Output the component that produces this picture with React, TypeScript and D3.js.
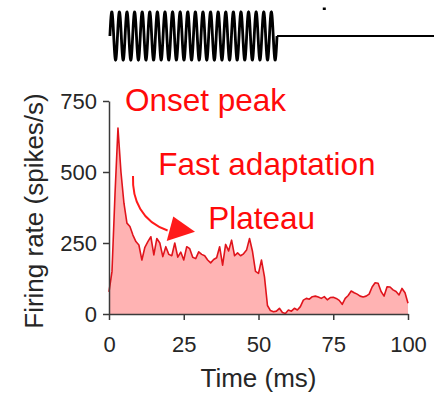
import React, { useEffect, useRef } from "react";
import * as d3 from "d3";

// Firing rate (spikes/s), 1 ms bins, t = 0..100 ms
const timeMs: number[] = d3.range(0, 101);
const firingRate: number[] = [
  78, 150, 420, 655, 500, 390, 320, 308, 278, 255,
  243, 190, 235, 255, 272, 208, 266, 250, 202, 237,
  210, 205, 250, 200, 218, 190, 237, 230, 200, 195,
  219, 210, 205, 190, 180, 192, 198, 237, 172, 245,
  222, 260, 205, 215, 205, 212, 225, 266, 220, 150,
  143, 190, 131, 30, 12, 8, 10, 20, 5, 2,
  14, 10, 20, 14, 26, 49, 55, 52, 61, 63,
  60, 55, 61, 50, 58, 59, 55, 48, 34, 55,
  65, 81, 75, 70, 63, 60, 63, 70, 95, 110,
  108, 79, 63, 96, 95, 85, 79, 67, 90, 75,
  38,
];
const xTicks: number[] = [0, 25, 50, 75, 100];
const yTicks: number[] = [0, 250, 500, 750];

// Stimulus schematic
const stimOnset = 0.3; // ms
const stimOffset = 56.2; // ms
const stimEnd = 109; // ms (right edge)
const stimCycles = 22;

// Annotations (data coords: [t, rate])
const annotations = [
  { text: "Onset peak", t: 5.35, v: 715 },
  { text: "Fast adaptation", t: 16.5, v: 488 },
  { text: "Plateau", t: 33.2, v: 299 },
];
const arrowShaft: [number, number][] = [
  [8.03, 486],
  [7.69, 401],
  [11.04, 324],
  [19.6, 294],
];
const arrowHead: [number, number][] = [
  [21.5, 343],
  [19.3, 257],
  [28.76, 290],
];

const W = 434;
const H = 397;

export default function App() {
  const ref = useRef<SVGSVGElement>(null);

  useEffect(() => {
    const svg = d3.select(ref.current);
    svg.selectAll("*").remove();

    const x = d3.scaleLinear().domain([0, 100]).range([109, 408]);
    const y = d3.scaleLinear().domain([0, 750]).range([314, 101]);
    const font = "'Liberation Sans', Arial, Helvetica, sans-serif";

    // Stimulus
    const sy = d3.scaleLinear().domain([-1, 1]).range([60, 12]);
    const stimPts: [number, number][] = d3
      .range(0, 1.00001, 0.0005)
      .map((f) => [
        stimOnset + f * (stimOffset - stimOnset),
        Math.sin(2 * Math.PI * stimCycles * f),
      ]);
    const sline = d3
      .line<[number, number]>()
      .x((d) => x(d[0]))
      .y((d) => sy(d[1]));
    svg
      .append("path")
      .attr("d", sline(stimPts))
      .attr("fill", "none")
      .attr("stroke", "#000")
      .attr("stroke-width", 2.8);
    svg
      .append("path")
      .attr("d", sline([[stimOffset, 0], [stimEnd, 0]]))
      .attr("fill", "none")
      .attr("stroke", "#000")
      .attr("stroke-width", 1.8);
    svg
      .append("rect")
      .attr("x", x(71.5))
      .attr("y", 7.5)
      .attr("width", 3)
      .attr("height", 2.5)
      .attr("fill", "#000");

    // Area + line
    const data = timeMs.map((t, i) => [t, firingRate[i]] as [number, number]);
    const area = d3
      .area<[number, number]>()
      .x((d) => x(d[0]))
      .y0(y(0))
      .y1((d) => y(d[1]));
    const line = d3
      .line<[number, number]>()
      .x((d) => x(d[0]))
      .y((d) => y(d[1]));
    svg.append("path").attr("d", area(data)).attr("fill", "#ffb3b3");
    svg
      .append("path")
      .attr("d", line(data))
      .attr("fill", "none")
      .attr("stroke", "#e0141c")
      .attr("stroke-width", 1.6)
      .attr("stroke-linejoin", "round");

    // Axes
    const xAxis = d3
      .axisBottom(x)
      .tickValues(xTicks)
      .tickSize(6)
      .tickSizeOuter(0)
      .tickPadding(16);
    const gx = svg
      .append("g")
      .attr("transform", `translate(0,${y(0)})`)
      .call(xAxis);
    const yAxis = d3
      .axisLeft(y)
      .tickValues(yTicks)
      .tickSize(6)
      .tickSizeOuter(0)
      .tickPadding(6);
    const gy = svg
      .append("g")
      .attr("transform", `translate(${x(0)},0)`)
      .call(yAxis);
    [gx, gy].forEach((g) => {
      g.selectAll("path,line").attr("stroke", "#3a3a3a").attr("stroke-width", 1.5);
      g.selectAll("text")
        .attr("fill", "#262626")
        .style("font-family", font)
        .style("font-size", "22px");
    });

    svg
      .append("text")
      .attr("x", (x(0) + x(100)) / 2)
      .attr("y", 387)
      .attr("text-anchor", "middle")
      .attr("fill", "#262626")
      .style("font-family", font)
      .style("font-size", "26px")
      .text("Time (ms)");
    svg
      .append("text")
      .attr("transform", `translate(43,211) rotate(-90)`)
      .attr("text-anchor", "middle")
      .attr("fill", "#262626")
      .style("font-family", font)
      .style("font-size", "26px")
      .text("Firing rate (spikes/s)");

    // Annotations
    annotations.forEach((a) => {
      svg
        .append("text")
        .attr("x", x(a.t))
        .attr("y", y(a.v))
        .attr("fill", "#ff0a0a")
        .style("font-family", font)
        .style("font-size", "31.5px")
        .text(a.text);
    });
    const [p0, c1, c2, p1] = arrowShaft;
    const path = d3.path();
    path.moveTo(x(p0[0]), y(p0[1]));
    path.bezierCurveTo(x(c1[0]), y(c1[1]), x(c2[0]), y(c2[1]), x(p1[0]), y(p1[1]));
    svg
      .append("path")
      .attr("d", path.toString())
      .attr("fill", "none")
      .attr("stroke", "#ff1a1a")
      .attr("stroke-width", 2);
    svg
      .append("polygon")
      .attr("points", arrowHead.map((p) => `${x(p[0])},${y(p[1])}`).join(" "))
      .attr("fill", "#ff1a1a");
  }, []);

  return (
    <svg
      ref={ref}
      width={W}
      height={H}
      style={{ position: "absolute", left: 0, top: 0, background: "#fff" }}
    />
  );
}
